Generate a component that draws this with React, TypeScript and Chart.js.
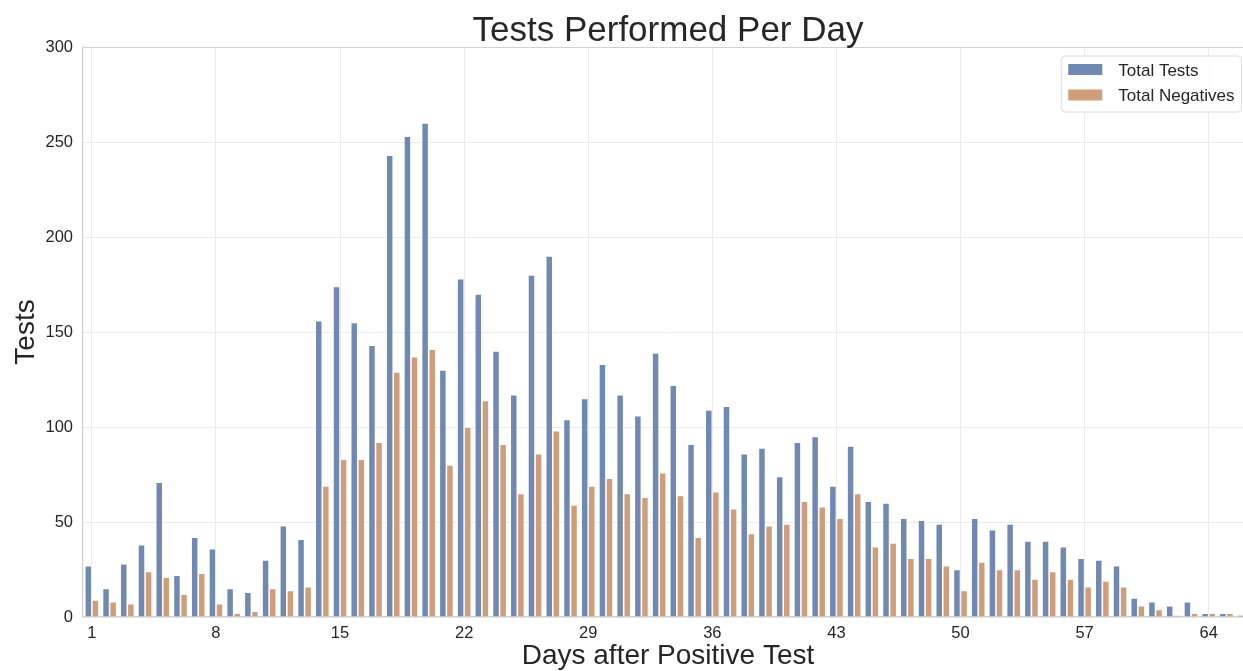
import { useEffect, useRef } from 'react';
import { Chart, registerables } from 'chart.js';

Chart.register(...registerables);

const days = [
  1, 2, 3, 4, 5, 6, 7, 8, 9, 10, 11, 12, 13, 14, 15, 16, 17, 18, 19, 20, 21, 22,
  23, 24, 25, 26, 27, 28, 29, 30, 31, 32, 33, 34, 35, 36, 37, 38, 39, 40, 41, 42, 43, 44,
  45, 46, 47, 48, 49, 50, 51, 52, 53, 54, 55, 56, 57, 58, 59, 60, 61, 62, 63, 64, 65, 66,
];

const totalTests = [
  27, 15, 28, 38, 71, 22, 42, 36, 15, 13, 30, 48, 41, 156, 174, 155, 143, 243, 253, 260, 130, 178,
  170, 140, 117, 180, 190, 104, 115, 133, 117, 106, 139, 122, 91, 109, 111, 86, 89, 74, 92, 95, 69, 90,
  61, 60, 52, 51, 49, 25, 52, 46, 49, 40, 40, 37, 31, 30, 27, 10, 8, 6, 8, 2, 2, 1,
];

const totalNegatives = [
  9, 8, 7, 24, 21, 12, 23, 7, 2, 3, 15, 14, 16, 69, 83, 83, 92, 129, 137, 141, 80, 100,
  114, 91, 65, 86, 98, 59, 69, 73, 65, 63, 76, 64, 42, 66, 57, 44, 48, 49, 61, 58, 52, 65,
  37, 39, 31, 31, 27, 14, 29, 25, 25, 20, 24, 20, 16, 19, 16, 6, 4, 1, 2, 2, 2, 1,
];

const xTickLabels = ['1', '8', '15', '22', '29', '36', '43', '50', '57', '64'];
const yMin = 0;
const yMax = 300;
const yStep = 50;

const chartTitle = 'Tests Performed Per Day';
const xTitle = 'Days after Positive Test';
const yTitle = 'Tests';
const seriesNames = ['Total Tests', 'Total Negatives'];

const FONT = '"Liberation Sans", Arial, Helvetica, sans-serif';
const TEXT = '#262626';
const GRID = '#ebebeb';
const SPINE = '#d2d2d2';
const BLUE = '#7089b3';
const ORANGE = '#cf9d79';

const titlePlugin = {
  id: 'axesTitle',
  afterDraw(chart: any) {
    const { ctx, chartArea } = chart;
    ctx.save();
    ctx.font = `35px ${FONT}`;
    ctx.fillStyle = TEXT;
    ctx.textAlign = 'center';
    ctx.textBaseline = 'alphabetic';
    ctx.fillText(chartTitle, (chartArea.left + chartArea.right) / 2, chartArea.top - 6.3);
    ctx.restore();
  },
};

const legendPlugin = {
  id: 'boxLegend',
  afterDraw(chart: any) {
    const { ctx, chartArea } = chart;
    const ds = chart.data.datasets;
    ctx.save();
    ctx.font = `17px ${FONT}`;
    let maxW = 0;
    ds.forEach((d: any) => {
      maxW = Math.max(maxW, ctx.measureText(d.label).width);
    });
    const padX = 7;
    const swW = 34;
    const swH = 11;
    const gap = 16;
    const rowH = 25.5;
    const boxW = padX + swW + gap + maxW + padX;
    const boxH = 56;
    const right = chartArea.right - 11.5;
    const left = right - boxW;
    const top = chartArea.top + 9;
    const r = 4;
    ctx.beginPath();
    ctx.moveTo(left + r, top);
    ctx.lineTo(left + boxW - r, top);
    ctx.arcTo(left + boxW, top, left + boxW, top + r, r);
    ctx.lineTo(left + boxW, top + boxH - r);
    ctx.arcTo(left + boxW, top + boxH, left + boxW - r, top + boxH, r);
    ctx.lineTo(left + r, top + boxH);
    ctx.arcTo(left, top + boxH, left, top + boxH - r, r);
    ctx.lineTo(left, top + r);
    ctx.arcTo(left, top, left + r, top, r);
    ctx.closePath();
    ctx.fillStyle = 'rgba(255,255,255,0.85)';
    ctx.fill();
    ctx.strokeStyle = '#dcdcdc';
    ctx.lineWidth = 1;
    ctx.stroke();
    ds.forEach((d: any, i: number) => {
      const cy = top + 13.5 + i * rowH;
      ctx.fillStyle = d.backgroundColor;
      ctx.fillRect(left + padX, cy - swH / 2, swW, swH);
      ctx.fillStyle = TEXT;
      ctx.textAlign = 'left';
      ctx.textBaseline = 'alphabetic';
      ctx.fillText(d.label, left + padX + swW + gap, cy + 6);
    });
    ctx.restore();
  },
};

export default function App() {
  const ref = useRef<HTMLCanvasElement | null>(null);

  useEffect(() => {
    if (!ref.current) return;
    Chart.defaults.font.family = FONT;
    const chart = new Chart(ref.current, {
      type: 'bar',
      data: {
        labels: days.map(String),
        datasets: [
          {
            label: seriesNames[0],
            data: totalTests,
            backgroundColor: BLUE,
            borderColor: 'rgba(255,255,255,0.85)',
            borderWidth: 0.8,
            categoryPercentage: 0.8,
            barPercentage: 1.0,
          },
          {
            label: seriesNames[1],
            data: totalNegatives,
            backgroundColor: ORANGE,
            borderColor: 'rgba(255,255,255,0.85)',
            borderWidth: 0.8,
            categoryPercentage: 0.8,
            barPercentage: 1.0,
          },
        ],
      },
      options: {
        responsive: false,
        animation: false,
        layout: { padding: { top: 47, left: 0, right: 0, bottom: 0 } },
        plugins: {
          legend: { display: false },
          title: { display: false },
          tooltip: { enabled: false },
        },
        scales: {
          x: {
            offset: true,
            grid: {
              offset: false,
              drawTicks: false,
              color: (c: any) => (c.index % 7 === 0 ? GRID : 'rgba(0,0,0,0)'),
              lineWidth: 1,
            },
            border: { display: true, color: SPINE, width: 1.25 },
            ticks: {
              autoSkip: false,
              maxRotation: 0,
              minRotation: 0,
              padding: 6.5,
              color: TEXT,
              font: { size: 16.5, family: FONT },
              callback: function (this: any, val: any) {
                const lbl = this.getLabelForValue(val);
                return xTickLabels.includes(lbl) ? lbl : '';
              },
            },
            title: {
              display: true,
              text: xTitle,
              color: TEXT,
              font: { size: 28, family: FONT, lineHeight: 1.0 },
              padding: { top: 0, bottom: 1 },
            },
            afterFit: (scale: any) => {
              scale.height = 54;
            },
          },
          y: {
            min: yMin,
            max: yMax,
            ticks: {
              stepSize: yStep,
              padding: 10,
              color: TEXT,
              font: { size: 16.5, family: FONT },
            },
            grid: {
              drawTicks: false,
              color: (c: any) => (c.tick && c.tick.value === yMax ? SPINE : GRID),
              lineWidth: 1,
            },
            border: { display: true, color: SPINE, width: 1.25 },
            title: {
              display: true,
              text: yTitle,
              color: TEXT,
              font: { size: 28, family: FONT, lineHeight: 1.0 },
              padding: { top: 12, bottom: 0 },
            },
            afterFit: (scale: any) => {
              scale.width = 83;
            },
          },
        },
      },
      plugins: [titlePlugin, legendPlugin],
    });
    return () => chart.destroy();
  }, []);

  return (
    <div
      style={{
        position: 'fixed',
        left: 0,
        top: 0,
        width: 1243,
        height: 671,
        overflow: 'hidden',
        background: '#ffffff',
      }}
    >
      <canvas ref={ref} width={1253} height={671} style={{ display: 'block', width: 1253, height: 671 }} />
    </div>
  );
}
